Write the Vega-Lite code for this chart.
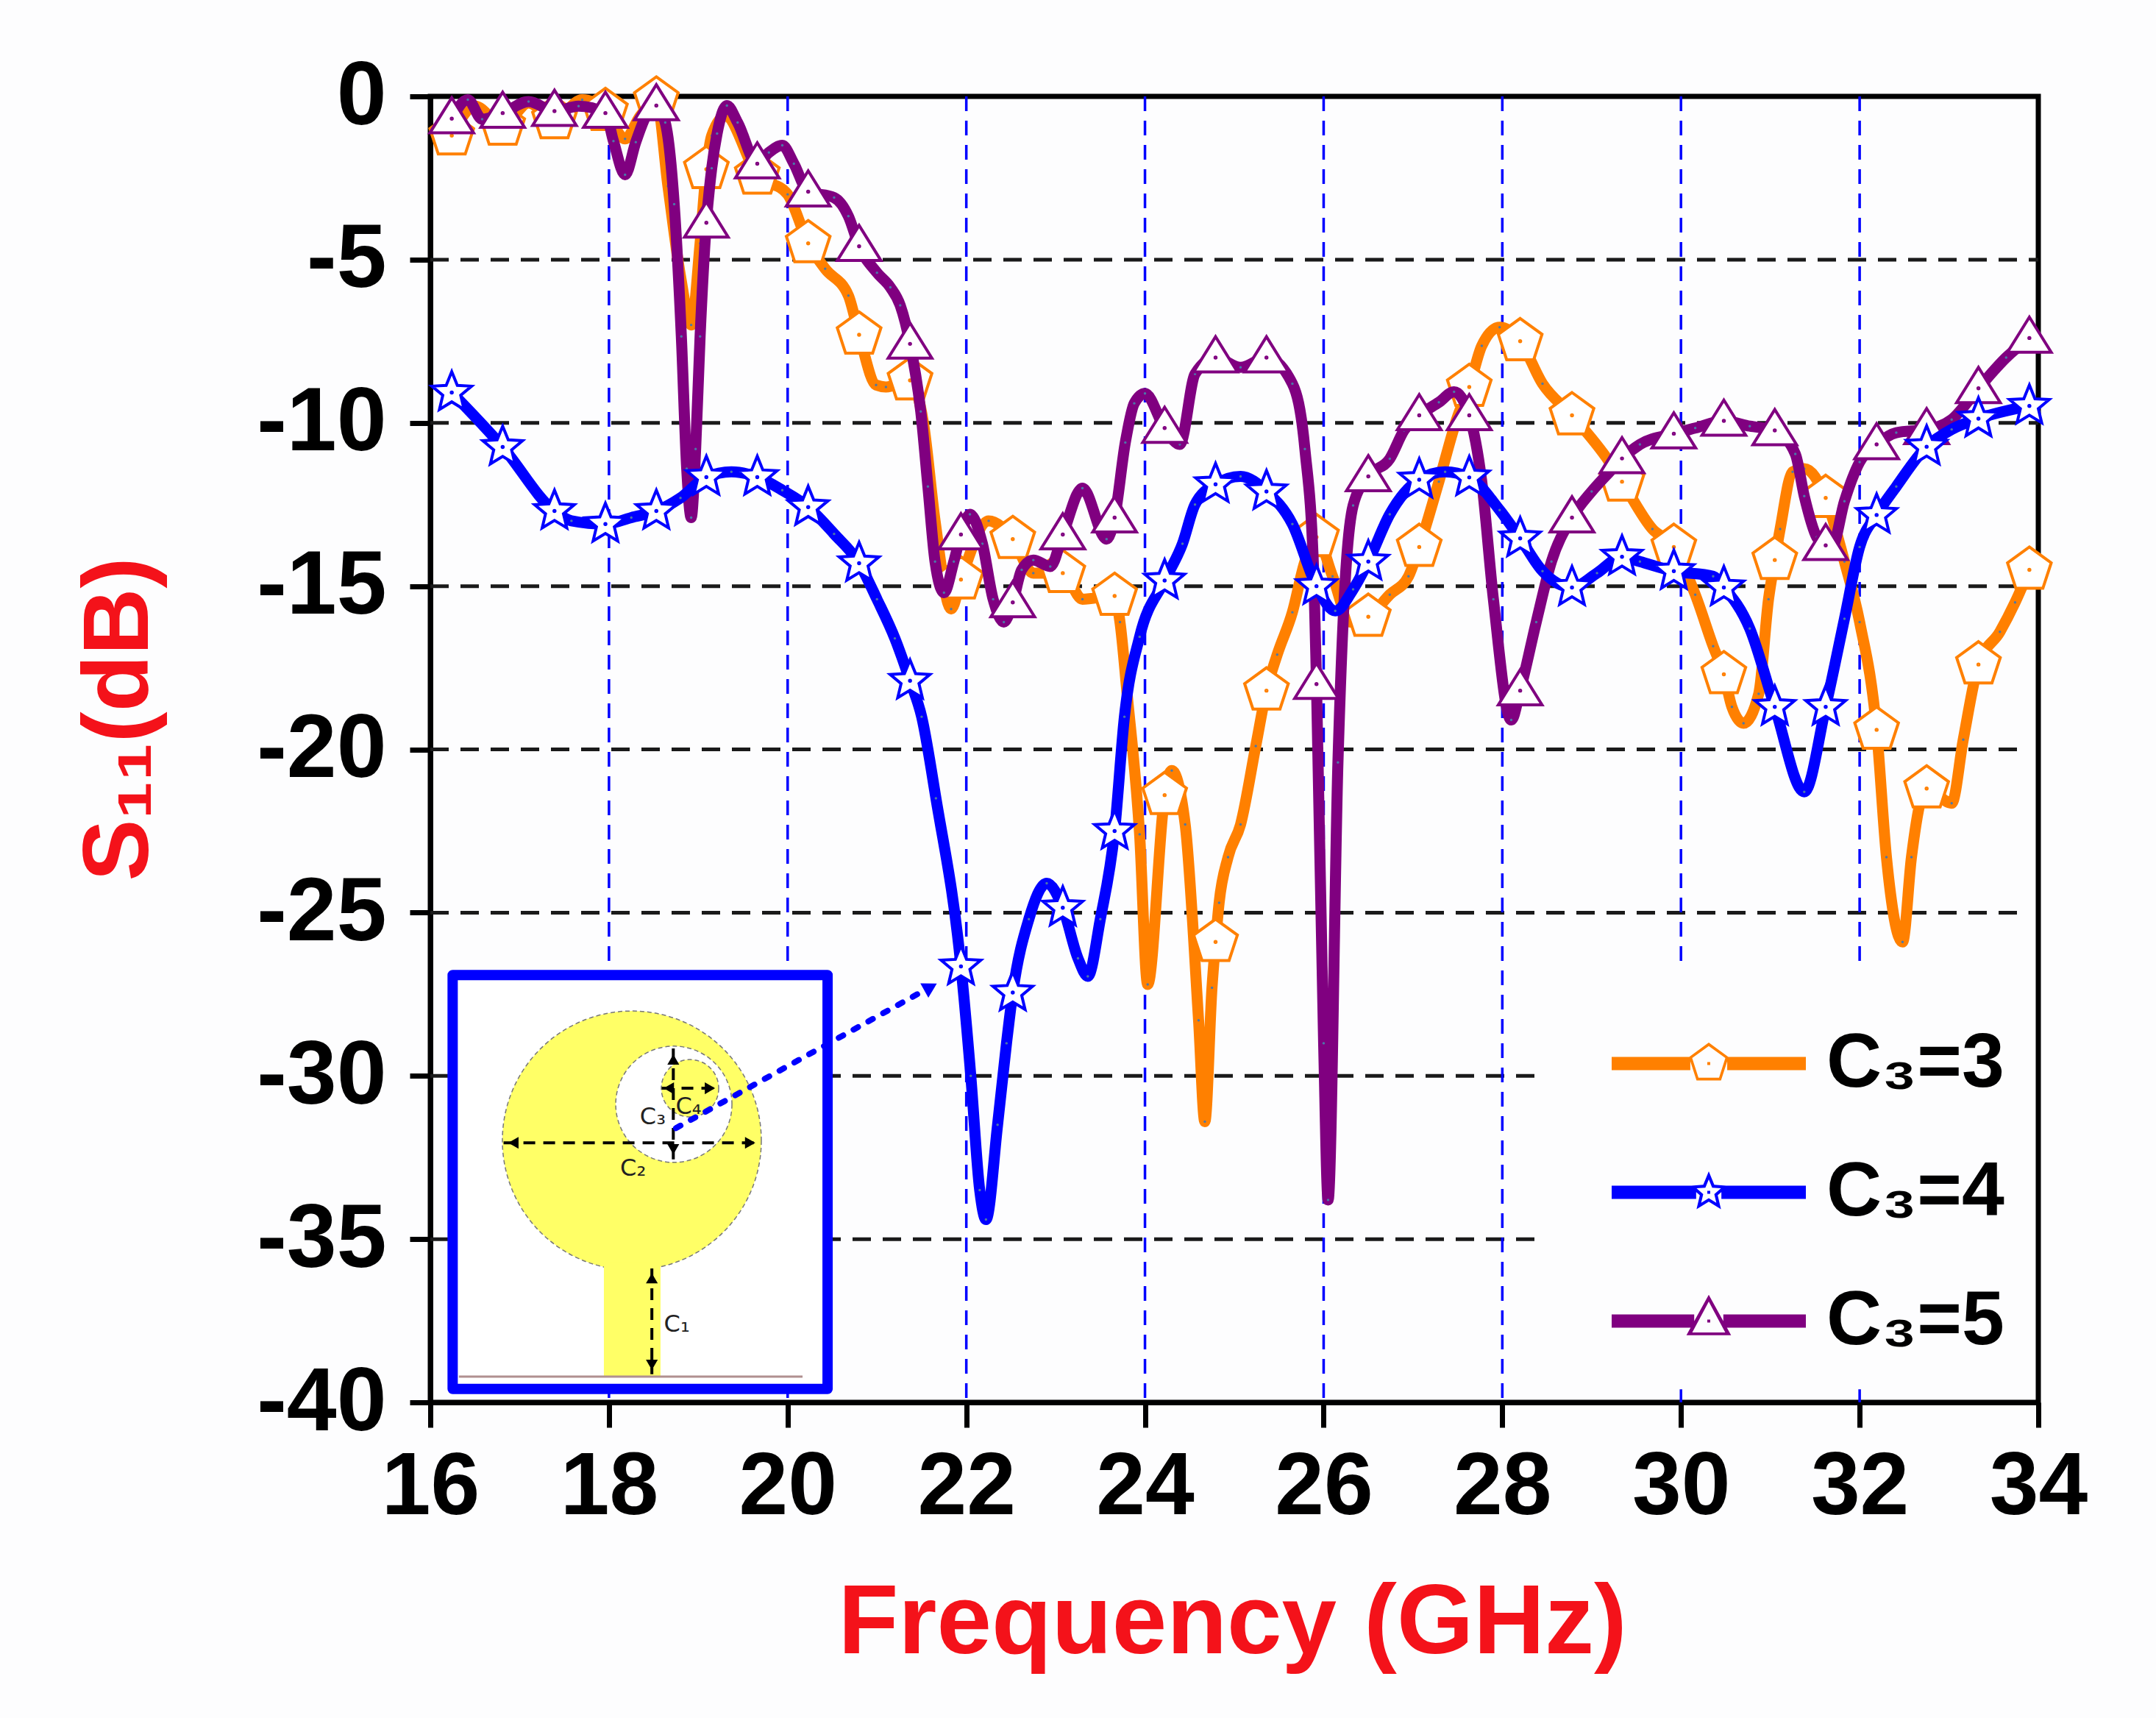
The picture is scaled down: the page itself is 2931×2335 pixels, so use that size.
{
"$schema":"https://vega.github.io/schema/vega-lite/v6.json",
"autosize":"none","width":2186,"height":1775,
"padding":{"left":585,"top":131,"right":160,"bottom":429},
"background":"#fdfdfe",
"config":{"view":{"stroke":"#000000","strokeWidth":7},"font":"Liberation Sans","axis":{"grid":false}},
"datasets":{
"gridH":[{"db":-5,"from":16,"to":34},{"db":-10,"from":16,"to":34},{"db":-15,"from":16,"to":34},{"db":-20,"from":16,"to":33.85},{"db":-25,"from":16,"to":33.85},{"db":-30,"from":16,"to":28.4},{"db":-35,"from":16,"to":28.4}],
"gridV":[{"f":18,"from":0,"to":-40},{"f":20,"from":0,"to":-40},{"f":22,"from":0,"to":-40},{"f":24,"from":0,"to":-40},{"f":26,"from":0,"to":-40},{"f":28,"from":0,"to":-40},{"f":30,"from":0,"to":-26.7},{"f":32,"from":0,"to":-26.7},{"f":30,"from":-39.6,"to":-40},{"f":32,"from":-39.6,"to":-40}],
"curves":[
{"series":"C₃=3","freq":16.24,"s11":-1.2,"marker":true},{"series":"C₃=3","freq":16.5,"s11":-0.3,"marker":false},{"series":"C₃=3","freq":16.81,"s11":-0.9,"marker":true},{"series":"C₃=3","freq":17.1,"s11":-0.2,"marker":false},{"series":"C₃=3","freq":17.39,"s11":-0.7,"marker":true},{"series":"C₃=3","freq":17.7,"s11":-0.1,"marker":false},{"series":"C₃=3","freq":17.96,"s11":-0.45,"marker":true},{"series":"C₃=3","freq":18.18,"s11":-1.3,"marker":false},{"series":"C₃=3","freq":18.35,"s11":-0.6,"marker":false},{"series":"C₃=3","freq":18.53,"s11":-0.1,"marker":true},{"series":"C₃=3","freq":18.66,"s11":-2.75,"marker":false},{"series":"C₃=3","freq":18.8,"s11":-5.5,"marker":false},{"series":"C₃=3","freq":18.92,"s11":-7,"marker":false},{"series":"C₃=3","freq":19.02,"s11":-4.5,"marker":false},{"series":"C₃=3","freq":19.09,"s11":-2.23,"marker":true},{"series":"C₃=3","freq":19.15,"s11":-1.2,"marker":false},{"series":"C₃=3","freq":19.3,"s11":-0.6,"marker":false},{"series":"C₃=3","freq":19.66,"s11":-2.4,"marker":true},{"series":"C₃=3","freq":20.0,"s11":-3,"marker":false},{"series":"C₃=3","freq":20.23,"s11":-4.5,"marker":true},{"series":"C₃=3","freq":20.42,"s11":-5.28,"marker":false},{"series":"C₃=3","freq":20.68,"s11":-6.1,"marker":false},{"series":"C₃=3","freq":20.8,"s11":-7.3,"marker":true},{"series":"C₃=3","freq":20.99,"s11":-8.84,"marker":false},{"series":"C₃=3","freq":21.1,"s11":-8.9,"marker":false},{"series":"C₃=3","freq":21.37,"s11":-8.7,"marker":true},{"series":"C₃=3","freq":21.52,"s11":-10,"marker":false},{"series":"C₃=3","freq":21.65,"s11":-13,"marker":false},{"series":"C₃=3","freq":21.83,"s11":-15.7,"marker":false},{"series":"C₃=3","freq":21.94,"s11":-14.8,"marker":true},{"series":"C₃=3","freq":22.25,"s11":-13,"marker":false},{"series":"C₃=3","freq":22.52,"s11":-13.56,"marker":true},{"series":"C₃=3","freq":22.75,"s11":-14.6,"marker":false},{"series":"C₃=3","freq":23.08,"s11":-14.6,"marker":true},{"series":"C₃=3","freq":23.3,"s11":-15.4,"marker":false},{"series":"C₃=3","freq":23.66,"s11":-15.3,"marker":true},{"series":"C₃=3","freq":23.72,"s11":-16.1,"marker":false},{"series":"C₃=3","freq":23.8,"s11":-18.3,"marker":false},{"series":"C₃=3","freq":23.94,"s11":-22.6,"marker":false},{"series":"C₃=3","freq":24.03,"s11":-27.2,"marker":false},{"series":"C₃=3","freq":24.2,"s11":-21.9,"marker":false},{"series":"C₃=3","freq":24.22,"s11":-21.4,"marker":true},{"series":"C₃=3","freq":24.3,"s11":-20.65,"marker":false},{"series":"C₃=3","freq":24.45,"s11":-22.3,"marker":false},{"series":"C₃=3","freq":24.6,"s11":-28.3,"marker":false},{"series":"C₃=3","freq":24.67,"s11":-31.4,"marker":false},{"series":"C₃=3","freq":24.75,"s11":-27.3,"marker":false},{"series":"C₃=3","freq":24.79,"s11":-25.9,"marker":true},{"series":"C₃=3","freq":24.83,"s11":-24.7,"marker":false},{"series":"C₃=3","freq":24.93,"s11":-23.3,"marker":false},{"series":"C₃=3","freq":25.07,"s11":-22.3,"marker":false},{"series":"C₃=3","freq":25.24,"s11":-19.9,"marker":false},{"series":"C₃=3","freq":25.36,"s11":-18.2,"marker":true},{"series":"C₃=3","freq":25.48,"s11":-17.1,"marker":false},{"series":"C₃=3","freq":25.65,"s11":-15.8,"marker":false},{"series":"C₃=3","freq":25.79,"s11":-14.25,"marker":false},{"series":"C₃=3","freq":25.92,"s11":-13.5,"marker":true},{"series":"C₃=3","freq":26.1,"s11":-14.7,"marker":false},{"series":"C₃=3","freq":26.3,"s11":-16.1,"marker":false},{"series":"C₃=3","freq":26.5,"s11":-15.94,"marker":true},{"series":"C₃=3","freq":26.74,"s11":-15.26,"marker":false},{"series":"C₃=3","freq":26.95,"s11":-14.7,"marker":false},{"series":"C₃=3","freq":27.07,"s11":-13.8,"marker":true},{"series":"C₃=3","freq":27.29,"s11":-11.8,"marker":false},{"series":"C₃=3","freq":27.5,"s11":-9.8,"marker":false},{"series":"C₃=3","freq":27.63,"s11":-8.9,"marker":true},{"series":"C₃=3","freq":27.77,"s11":-7.64,"marker":false},{"series":"C₃=3","freq":27.97,"s11":-7.07,"marker":false},{"series":"C₃=3","freq":28.2,"s11":-7.5,"marker":true},{"series":"C₃=3","freq":28.45,"s11":-8.8,"marker":false},{"series":"C₃=3","freq":28.78,"s11":-9.77,"marker":true},{"series":"C₃=3","freq":29.2,"s11":-11.2,"marker":false},{"series":"C₃=3","freq":29.34,"s11":-11.8,"marker":true},{"series":"C₃=3","freq":29.68,"s11":-13.25,"marker":false},{"series":"C₃=3","freq":29.92,"s11":-13.8,"marker":true},{"series":"C₃=3","freq":30.16,"s11":-15.26,"marker":false},{"series":"C₃=3","freq":30.36,"s11":-16.84,"marker":false},{"series":"C₃=3","freq":30.48,"s11":-17.7,"marker":true},{"series":"C₃=3","freq":30.57,"s11":-18.7,"marker":false},{"series":"C₃=3","freq":30.7,"s11":-19.2,"marker":false},{"series":"C₃=3","freq":30.87,"s11":-18.3,"marker":false},{"series":"C₃=3","freq":30.98,"s11":-15.4,"marker":false},{"series":"C₃=3","freq":31.05,"s11":-14.2,"marker":true},{"series":"C₃=3","freq":31.11,"s11":-13.25,"marker":false},{"series":"C₃=3","freq":31.25,"s11":-11.5,"marker":false},{"series":"C₃=3","freq":31.38,"s11":-11.4,"marker":false},{"series":"C₃=3","freq":31.62,"s11":-12.3,"marker":true},{"series":"C₃=3","freq":31.83,"s11":-14.25,"marker":false},{"series":"C₃=3","freq":32.0,"s11":-16.1,"marker":false},{"series":"C₃=3","freq":32.19,"s11":-19.4,"marker":true},{"series":"C₃=3","freq":32.3,"s11":-23.3,"marker":false},{"series":"C₃=3","freq":32.48,"s11":-25.9,"marker":false},{"series":"C₃=3","freq":32.58,"s11":-23.3,"marker":false},{"series":"C₃=3","freq":32.68,"s11":-21.6,"marker":false},{"series":"C₃=3","freq":32.75,"s11":-21.2,"marker":true},{"series":"C₃=3","freq":33.03,"s11":-21.65,"marker":false},{"series":"C₃=3","freq":33.16,"s11":-19.7,"marker":false},{"series":"C₃=3","freq":33.33,"s11":-17.4,"marker":true},{"series":"C₃=3","freq":33.57,"s11":-16.4,"marker":false},{"series":"C₃=3","freq":33.74,"s11":-15.5,"marker":false},{"series":"C₃=3","freq":33.9,"s11":-14.5,"marker":true},

{"series":"C₃=5","freq":16.24,"s11":-0.68,"marker":true},{"series":"C₃=5","freq":16.42,"s11":-0.1,"marker":false},{"series":"C₃=5","freq":16.58,"s11":-0.7,"marker":false},{"series":"C₃=5","freq":16.81,"s11":-0.51,"marker":true},{"series":"C₃=5","freq":17.1,"s11":-0.16,"marker":false},{"series":"C₃=5","freq":17.39,"s11":-0.45,"marker":true},{"series":"C₃=5","freq":17.66,"s11":-0.3,"marker":false},{"series":"C₃=5","freq":17.96,"s11":-0.51,"marker":true},{"series":"C₃=5","freq":18.05,"s11":-1.37,"marker":false},{"series":"C₃=5","freq":18.18,"s11":-2.4,"marker":false},{"series":"C₃=5","freq":18.3,"s11":-1.4,"marker":false},{"series":"C₃=5","freq":18.42,"s11":-0.57,"marker":false},{"series":"C₃=5","freq":18.53,"s11":-0.28,"marker":true},{"series":"C₃=5","freq":18.63,"s11":-0.8,"marker":false},{"series":"C₃=5","freq":18.73,"s11":-3.3,"marker":false},{"series":"C₃=5","freq":18.81,"s11":-7.35,"marker":false},{"series":"C₃=5","freq":18.87,"s11":-11.4,"marker":false},{"series":"C₃=5","freq":18.92,"s11":-12.9,"marker":false},{"series":"C₃=5","freq":18.97,"s11":-10.8,"marker":false},{"series":"C₃=5","freq":19.02,"s11":-7.35,"marker":false},{"series":"C₃=5","freq":19.09,"s11":-3.87,"marker":true},{"series":"C₃=5","freq":19.15,"s11":-2.2,"marker":false},{"series":"C₃=5","freq":19.21,"s11":-1.14,"marker":false},{"series":"C₃=5","freq":19.32,"s11":-0.28,"marker":false},{"series":"C₃=5","freq":19.44,"s11":-0.8,"marker":false},{"series":"C₃=5","freq":19.66,"s11":-2.06,"marker":true},{"series":"C₃=5","freq":19.79,"s11":-1.72,"marker":false},{"series":"C₃=5","freq":19.94,"s11":-1.5,"marker":false},{"series":"C₃=5","freq":20.07,"s11":-2.06,"marker":false},{"series":"C₃=5","freq":20.23,"s11":-2.92,"marker":true},{"series":"C₃=5","freq":20.52,"s11":-3.1,"marker":false},{"series":"C₃=5","freq":20.68,"s11":-3.67,"marker":false},{"series":"C₃=5","freq":20.8,"s11":-4.59,"marker":true},{"series":"C₃=5","freq":21.0,"s11":-5.4,"marker":false},{"series":"C₃=5","freq":21.15,"s11":-5.85,"marker":false},{"series":"C₃=5","freq":21.26,"s11":-6.4,"marker":false},{"series":"C₃=5","freq":21.37,"s11":-7.58,"marker":true},{"series":"C₃=5","freq":21.49,"s11":-9.65,"marker":false},{"series":"C₃=5","freq":21.57,"s11":-11.95,"marker":false},{"series":"C₃=5","freq":21.65,"s11":-14.25,"marker":false},{"series":"C₃=5","freq":21.75,"s11":-15.2,"marker":false},{"series":"C₃=5","freq":21.86,"s11":-14.25,"marker":false},{"series":"C₃=5","freq":21.94,"s11":-13.42,"marker":true},{"series":"C₃=5","freq":22.04,"s11":-12.8,"marker":false},{"series":"C₃=5","freq":22.18,"s11":-13.7,"marker":false},{"series":"C₃=5","freq":22.3,"s11":-15.4,"marker":false},{"series":"C₃=5","freq":22.42,"s11":-16.1,"marker":false},{"series":"C₃=5","freq":22.52,"s11":-15.5,"marker":true},{"series":"C₃=5","freq":22.62,"s11":-14.5,"marker":false},{"series":"C₃=5","freq":22.75,"s11":-14.2,"marker":false},{"series":"C₃=5","freq":22.94,"s11":-14.4,"marker":false},{"series":"C₃=5","freq":23.08,"s11":-13.42,"marker":true},{"series":"C₃=5","freq":23.3,"s11":-12,"marker":false},{"series":"C₃=5","freq":23.57,"s11":-13.56,"marker":false},{"series":"C₃=5","freq":23.66,"s11":-12.9,"marker":true},{"series":"C₃=5","freq":23.78,"s11":-10.6,"marker":false},{"series":"C₃=5","freq":23.88,"s11":-9.4,"marker":false},{"series":"C₃=5","freq":24.0,"s11":-9.1,"marker":false},{"series":"C₃=5","freq":24.22,"s11":-10.16,"marker":true},{"series":"C₃=5","freq":24.39,"s11":-10.66,"marker":false},{"series":"C₃=5","freq":24.56,"s11":-8.5,"marker":false},{"series":"C₃=5","freq":24.79,"s11":-8,"marker":true},{"series":"C₃=5","freq":25.07,"s11":-8.3,"marker":false},{"series":"C₃=5","freq":25.36,"s11":-8,"marker":true},{"series":"C₃=5","freq":25.65,"s11":-8.8,"marker":false},{"series":"C₃=5","freq":25.79,"s11":-10.8,"marker":false},{"series":"C₃=5","freq":25.89,"s11":-14.7,"marker":false},{"series":"C₃=5","freq":25.92,"s11":-18,"marker":true},{"series":"C₃=5","freq":26.0,"s11":-29,"marker":false},{"series":"C₃=5","freq":26.05,"s11":-33.8,"marker":false},{"series":"C₃=5","freq":26.16,"s11":-20.4,"marker":false},{"series":"C₃=5","freq":26.23,"s11":-15.4,"marker":false},{"series":"C₃=5","freq":26.33,"s11":-12.53,"marker":false},{"series":"C₃=5","freq":26.5,"s11":-11.64,"marker":true},{"series":"C₃=5","freq":26.74,"s11":-11.1,"marker":false},{"series":"C₃=5","freq":26.9,"s11":-10.23,"marker":false},{"series":"C₃=5","freq":27.07,"s11":-9.77,"marker":true},{"series":"C₃=5","freq":27.29,"s11":-9.37,"marker":false},{"series":"C₃=5","freq":27.46,"s11":-9.05,"marker":false},{"series":"C₃=5","freq":27.63,"s11":-9.77,"marker":true},{"series":"C₃=5","freq":27.77,"s11":-11.8,"marker":false},{"series":"C₃=5","freq":27.9,"s11":-15.4,"marker":false},{"series":"C₃=5","freq":28.1,"s11":-19.1,"marker":false},{"series":"C₃=5","freq":28.2,"s11":-18.2,"marker":true},{"series":"C₃=5","freq":28.38,"s11":-16.1,"marker":false},{"series":"C₃=5","freq":28.55,"s11":-14.25,"marker":false},{"series":"C₃=5","freq":28.78,"s11":-12.9,"marker":true},{"series":"C₃=5","freq":29.0,"s11":-12.1,"marker":false},{"series":"C₃=5","freq":29.2,"s11":-11.5,"marker":false},{"series":"C₃=5","freq":29.34,"s11":-11.09,"marker":true},{"series":"C₃=5","freq":29.54,"s11":-10.66,"marker":false},{"series":"C₃=5","freq":29.92,"s11":-10.33,"marker":true},{"series":"C₃=5","freq":30.16,"s11":-10.16,"marker":false},{"series":"C₃=5","freq":30.48,"s11":-9.94,"marker":true},{"series":"C₃=5","freq":30.77,"s11":-10.1,"marker":false},{"series":"C₃=5","freq":31.05,"s11":-10.23,"marker":true},{"series":"C₃=5","freq":31.28,"s11":-10.95,"marker":false},{"series":"C₃=5","freq":31.38,"s11":-12.24,"marker":false},{"series":"C₃=5","freq":31.52,"s11":-13.5,"marker":false},{"series":"C₃=5","freq":31.62,"s11":-13.75,"marker":true},{"series":"C₃=5","freq":31.69,"s11":-13.8,"marker":false},{"series":"C₃=5","freq":31.83,"s11":-12.4,"marker":false},{"series":"C₃=5","freq":32.0,"s11":-11.2,"marker":false},{"series":"C₃=5","freq":32.19,"s11":-10.66,"marker":true},{"series":"C₃=5","freq":32.41,"s11":-10.3,"marker":false},{"series":"C₃=5","freq":32.75,"s11":-10.2,"marker":true},{"series":"C₃=5","freq":33.03,"s11":-9.9,"marker":false},{"series":"C₃=5","freq":33.33,"s11":-8.94,"marker":true},{"series":"C₃=5","freq":33.64,"s11":-8,"marker":false},{"series":"C₃=5","freq":33.9,"s11":-7.4,"marker":true},

{"series":"C₃=4","freq":16.24,"s11":-9.07,"marker":true},{"series":"C₃=4","freq":16.81,"s11":-10.74,"marker":true},{"series":"C₃=4","freq":17.39,"s11":-12.7,"marker":true},{"series":"C₃=4","freq":17.58,"s11":-13,"marker":false},{"series":"C₃=4","freq":17.96,"s11":-13.1,"marker":true},{"series":"C₃=4","freq":18.25,"s11":-12.9,"marker":false},{"series":"C₃=4","freq":18.53,"s11":-12.7,"marker":true},{"series":"C₃=4","freq":18.8,"s11":-12.3,"marker":false},{"series":"C₃=4","freq":19.09,"s11":-11.66,"marker":true},{"series":"C₃=4","freq":19.37,"s11":-11.5,"marker":false},{"series":"C₃=4","freq":19.66,"s11":-11.66,"marker":true},{"series":"C₃=4","freq":19.94,"s11":-12.06,"marker":false},{"series":"C₃=4","freq":20.23,"s11":-12.58,"marker":true},{"series":"C₃=4","freq":20.52,"s11":-13.4,"marker":false},{"series":"C₃=4","freq":20.8,"s11":-14.3,"marker":true},{"series":"C₃=4","freq":21.0,"s11":-15.4,"marker":false},{"series":"C₃=4","freq":21.2,"s11":-16.6,"marker":false},{"series":"C₃=4","freq":21.37,"s11":-17.9,"marker":true},{"series":"C₃=4","freq":21.5,"s11":-19,"marker":false},{"series":"C₃=4","freq":21.66,"s11":-21.5,"marker":false},{"series":"C₃=4","freq":21.94,"s11":-26.65,"marker":true},{"series":"C₃=4","freq":22.05,"s11":-30,"marker":false},{"series":"C₃=4","freq":22.15,"s11":-33.5,"marker":false},{"series":"C₃=4","freq":22.22,"s11":-34.4,"marker":false},{"series":"C₃=4","freq":22.35,"s11":-31.5,"marker":false},{"series":"C₃=4","freq":22.45,"s11":-29,"marker":false},{"series":"C₃=4","freq":22.52,"s11":-27.45,"marker":true},{"series":"C₃=4","freq":22.7,"s11":-25.2,"marker":false},{"series":"C₃=4","freq":22.9,"s11":-24.1,"marker":false},{"series":"C₃=4","freq":23.08,"s11":-24.85,"marker":true},{"series":"C₃=4","freq":23.25,"s11":-26.4,"marker":false},{"series":"C₃=4","freq":23.36,"s11":-26.95,"marker":false},{"series":"C₃=4","freq":23.5,"s11":-25.2,"marker":false},{"series":"C₃=4","freq":23.66,"s11":-22.5,"marker":true},{"series":"C₃=4","freq":23.77,"s11":-19,"marker":false},{"series":"C₃=4","freq":23.94,"s11":-16.55,"marker":false},{"series":"C₃=4","freq":24.22,"s11":-14.83,"marker":true},{"series":"C₃=4","freq":24.42,"s11":-13.7,"marker":false},{"series":"C₃=4","freq":24.56,"s11":-12.5,"marker":false},{"series":"C₃=4","freq":24.79,"s11":-11.88,"marker":true},{"series":"C₃=4","freq":25.07,"s11":-11.64,"marker":false},{"series":"C₃=4","freq":25.36,"s11":-12.1,"marker":true},{"series":"C₃=4","freq":25.65,"s11":-13.1,"marker":false},{"series":"C₃=4","freq":25.92,"s11":-15,"marker":true},{"series":"C₃=4","freq":26.13,"s11":-15.76,"marker":false},{"series":"C₃=4","freq":26.33,"s11":-15.1,"marker":false},{"series":"C₃=4","freq":26.5,"s11":-14.25,"marker":true},{"series":"C₃=4","freq":26.74,"s11":-12.8,"marker":false},{"series":"C₃=4","freq":27.07,"s11":-11.74,"marker":true},{"series":"C₃=4","freq":27.36,"s11":-11.5,"marker":false},{"series":"C₃=4","freq":27.63,"s11":-11.67,"marker":true},{"series":"C₃=4","freq":27.97,"s11":-12.67,"marker":false},{"series":"C₃=4","freq":28.2,"s11":-13.54,"marker":true},{"series":"C₃=4","freq":28.45,"s11":-14.54,"marker":false},{"series":"C₃=4","freq":28.78,"s11":-15.04,"marker":true},{"series":"C₃=4","freq":29.06,"s11":-14.6,"marker":false},{"series":"C₃=4","freq":29.34,"s11":-14.1,"marker":true},{"series":"C₃=4","freq":29.54,"s11":-14.25,"marker":false},{"series":"C₃=4","freq":29.92,"s11":-14.54,"marker":true},{"series":"C₃=4","freq":30.36,"s11":-14.7,"marker":false},{"series":"C₃=4","freq":30.48,"s11":-15.04,"marker":true},{"series":"C₃=4","freq":30.77,"s11":-16.3,"marker":false},{"series":"C₃=4","freq":31.05,"s11":-18.7,"marker":true},{"series":"C₃=4","freq":31.38,"s11":-21.3,"marker":false},{"series":"C₃=4","freq":31.62,"s11":-18.7,"marker":true},{"series":"C₃=4","freq":31.83,"s11":-16,"marker":false},{"series":"C₃=4","freq":32.0,"s11":-13.8,"marker":false},{"series":"C₃=4","freq":32.19,"s11":-12.82,"marker":true},{"series":"C₃=4","freq":32.41,"s11":-11.95,"marker":false},{"series":"C₃=4","freq":32.75,"s11":-10.73,"marker":true},{"series":"C₃=4","freq":33.03,"s11":-10.2,"marker":false},{"series":"C₃=4","freq":33.33,"s11":-9.87,"marker":true},{"series":"C₃=4","freq":33.9,"s11":-9.48,"marker":true}
]
},
"layer":[
{"data":{"name":"gridH"},"mark":{"type":"rule","color":"#1a1a1a","strokeWidth":5,"strokeDash":[25,16]},
 "encoding":{"y":{"field":"db","type":"quantitative","scale":{"domain":[-40,0],"nice":false,"zero":false}},"x":{"field":"from","type":"quantitative","scale":{"domain":[16,34],"nice":false,"zero":false}},"x2":{"field":"to"}}},
{"data":{"name":"gridV"},"mark":{"type":"rule","color":"#0000ff","strokeWidth":3.5,"strokeDash":[20,13]},
 "encoding":{"x":{"field":"f","type":"quantitative"},"y":{"field":"from","type":"quantitative"},"y2":{"field":"to"}}},
{"data":{"values":[{"x0":16.25,"x1":20.447,"y0":-26.91,"y1":-39.59}]},"mark":{"type":"rect","fill":"#ffffff","stroke":"#0000ff","strokeWidth":14,"strokeJoin":"round"},
 "encoding":{"x":{"field":"x0","type":"quantitative"},"x2":{"field":"x1"},"y":{"field":"y0","type":"quantitative"},"y2":{"field":"y1"}}},
{"data":{"values":[{"f":18.256,"db":-31.98}]},"mark":{"type":"point","shape":"circle","filled":true,"fill":"#ffff66","stroke":"#777777","strokeWidth":1.5,"strokeDash":[6,4],"opacity":1,"size":123904},
 "encoding":{"x":{"field":"f","type":"quantitative"},"y":{"field":"db","type":"quantitative"}}},
{"data":{"values":[{"x0":17.943,"x1":18.577,"y0":-35.7,"y1":-39.21}]},"mark":{"type":"rect","fill":"#ffff66"},
 "encoding":{"x":{"field":"x0","type":"quantitative"},"x2":{"field":"x1"},"y":{"field":"y0","type":"quantitative"},"y2":{"field":"y1"}}},
{"data":{"values":[{"x0":16.32,"x1":20.167,"db":-39.21}]},"mark":{"type":"rule","color":"#b09090","strokeWidth":3},
 "encoding":{"x":{"field":"x0","type":"quantitative"},"x2":{"field":"x1"},"y":{"field":"db","type":"quantitative"}}},
{"data":{"values":[{"f":18.726,"db":-30.87}]},"mark":{"type":"point","shape":"circle","filled":true,"fill":"#ffffff","stroke":"#777777","strokeWidth":1.5,"strokeDash":[6,4],"opacity":1,"size":24964},
 "encoding":{"x":{"field":"f","type":"quantitative"},"y":{"field":"db","type":"quantitative"}}},
{"data":{"values":[{"f":18.907,"db":-30.38}]},"mark":{"type":"point","shape":"circle","filled":true,"fill":"#ffff66","stroke":"#777777","strokeWidth":1.5,"strokeDash":[6,4],"opacity":1,"size":6084},
 "encoding":{"x":{"field":"f","type":"quantitative"},"y":{"field":"db","type":"quantitative"}}},
{"data":{"values":[{"x0":16.82,"x1":19.69,"y0":-32.05,"y1":-32.05},{"x0":18.48,"x1":18.48,"y0":-35.9,"y1":-39.14},{"x0":18.72,"x1":18.72,"y0":-29.16,"y1":-32.56},{"x0":18.59,"x1":19.21,"y0":-30.38,"y1":-30.38}]},"mark":{"type":"rule","color":"#000000","strokeWidth":4,"strokeDash":[16,11]},
 "encoding":{"x":{"field":"x0","type":"quantitative"},"x2":{"field":"x1"},"y":{"field":"y0","type":"quantitative"},"y2":{"field":"y1"}}},
{"data":{"values":[{"f":16.93,"db":-32.05,"dir":"left"},{"f":19.58,"db":-32.05,"dir":"right"},{"f":18.48,"db":-36.2,"dir":"up"},{"f":18.48,"db":-38.85,"dir":"down"},{"f":18.72,"db":-29.5,"dir":"up"},{"f":18.72,"db":-32.25,"dir":"down"},{"f":18.67,"db":-30.38,"dir":"left"},{"f":19.13,"db":-30.38,"dir":"right"}]},"mark":{"type":"point","filled":true,"color":"#000000","opacity":1,"size":260},
 "encoding":{"x":{"field":"f","type":"quantitative"},"y":{"field":"db","type":"quantitative"},"shape":{"field":"dir","type":"nominal","legend":null,"scale":{"domain":["left","right","up","down"],"range":["triangle-left","triangle-right","triangle-up","triangle-down"]}}}},
{"data":{"values":[{"f":18.76,"db":-37.6,"t":"C₁"},{"f":18.27,"db":-32.83,"t":"C₂"},{"f":18.49,"db":-31.26,"t":"C₃"},{"f":18.89,"db":-30.94,"t":"C₄"}]},"mark":{"type":"text","font":"DejaVu Sans","fontSize":32,"color":"#222222","align":"center","baseline":"middle"},
 "encoding":{"x":{"field":"f","type":"quantitative"},"y":{"field":"db","type":"quantitative"},"text":{"field":"t"}}},
{"data":{"name":"curves"},
 "encoding":{
  "x":{"field":"freq","type":"quantitative","axis":{"title":"Frequency (GHz)","values":[16,18,20,22,24,26,28,30,32,34],"format":"d","labelFont":"Liberation Sans","labelFontWeight":"bold","labelFontSize":120,"labelColor":"#000000","labelPadding":22,"labelFlush":false,"labelOverlap":false,"domainWidth":7,"domainColor":"#000000","tickWidth":7,"tickColor":"#000000","tickSize":34,"grid":false,"titleFont":"Liberation Sans","titleFontWeight":"bold","titleFontSize":134,"titleColor":"#f4121a","titleX":1090,"titleY":340,"titleBaseline":"alphabetic","titleAlign":"center","titleLimit":2000}},
  "y":{"field":"s11","type":"quantitative","axis":{"title":"S₁₁(dB)","values":[0,-5,-10,-15,-20,-25,-30,-35,-40],"labelExpr":"''+datum.value","labelFont":"Liberation Sans","labelFontWeight":"bold","labelFontSize":122,"labelColor":"#000000","labelPadding":32,"labelLimit":500,"labelFlush":false,"labelOverlap":false,"domainWidth":7,"domainColor":"#000000","tickWidth":7,"tickColor":"#000000","tickSize":28,"grid":false,"titleFont":"Liberation Sans","titleFontWeight":"bold","titleFontSize":126,"titleColor":"#f4121a","titleX":-385,"titleY":846,"titleBaseline":"alphabetic","titleAlign":"center","titleAngle":-90,"titleLimit":2000}},
  "stroke":{"field":"series","type":"nominal","sort":null,"legend":null,"scale":{"domain":["C₃=3","C₃=4","C₃=5"],"range":["#ff8000","#0000ff","#800080"]}},
  "shape":{"field":"series","type":"nominal","legend":null,"scale":{"domain":["C₃=3","C₃=4","C₃=5"],"range":["M0 -1.15L1.1 -.35L.68 .93L-.68 .93L-1.1 -.35Z","M0 -1.05L.28 -.36L1 -.32L.45 .14L.62 .85L0 .47L-.62 .85L-.45 .14L-1 -.32L-.28 -.36Z","M0 -1.05L1.1 .72L-1.1 .72Z"]}}
 },
 "layer":[
  {"transform":[{"filter":"datum.series=='C₃=3'"}],"layer":[
   {"mark":{"type":"line","strokeWidth":15,"interpolate":"monotone","strokeCap":"round"},"encoding":{"shape":{"value":null}}},
   {"transform":[{"filter":"datum.marker"}],"mark":{"type":"point","filled":true,"fill":"#ffffff","strokeWidth":4,"opacity":1,"size":2916}},
   {"transform":[{"filter":"datum.marker"}],"mark":{"type":"point","filled":false,"shape":"circle","strokeWidth":3,"opacity":1,"size":6},"encoding":{"shape":{"value":"circle"}}}
  ]},
  {"transform":[{"filter":"datum.series=='C₃=5'"}],"layer":[
   {"mark":{"type":"line","strokeWidth":15,"interpolate":"monotone","strokeCap":"round"},"encoding":{"shape":{"value":null}}},
   {"transform":[{"filter":"datum.marker"}],"mark":{"type":"point","filled":true,"fill":"#ffffff","strokeWidth":4,"opacity":1,"size":2916}},
   {"transform":[{"filter":"datum.marker"}],"mark":{"type":"point","filled":false,"shape":"circle","strokeWidth":3,"opacity":1,"size":6},"encoding":{"shape":{"value":"circle"}}}
  ]},
  {"transform":[{"filter":"datum.series=='C₃=4'"}],"layer":[
   {"mark":{"type":"line","strokeWidth":15,"interpolate":"monotone","strokeCap":"round"},"encoding":{"shape":{"value":null}}},
   {"transform":[{"filter":"datum.marker"}],"mark":{"type":"point","filled":true,"fill":"#ffffff","strokeWidth":4,"opacity":1,"size":2916}},
   {"transform":[{"filter":"datum.marker"}],"mark":{"type":"point","filled":false,"shape":"circle","strokeWidth":3,"opacity":1,"size":6},"encoding":{"shape":{"value":"circle"}}}
  ]}
 ]},
{"data":{"values":[{"x0":18.75,"x1":21.55,"y0":-31.6,"y1":-27.35}]},"mark":{"type":"rule","color":"#0000ff","strokeWidth":8,"strokeDash":[7,16],"strokeCap":"round"},
 "encoding":{"x":{"field":"x0","type":"quantitative"},"x2":{"field":"x1"},"y":{"field":"y0","type":"quantitative"},"y2":{"field":"y1"}}},
{"data":{"values":[{"f":21.6,"db":-27.28}]},"mark":{"type":"point","shape":"triangle-up","filled":true,"color":"#0000ff","opacity":1,"size":500,"angle":61},
 "encoding":{"x":{"field":"f","type":"quantitative"},"y":{"field":"db","type":"quantitative"}}},
{"data":{"name":"curves"},"transform":[{"filter":"false"}],"mark":{"type":"point","filled":true,"opacity":1},
 "encoding":{"x":{"field":"freq","type":"quantitative"},"y":{"field":"s11","type":"quantitative"},
  "fill":{"field":"series","type":"nominal","sort":null,"scale":{"domain":["C₃=3","C₃=4","C₃=5"],"range":["#ff8000","#0000ff","#800080"]},
   "legend":{"title":null,"orient":"none","legendX":1606,"legendY":1227,"padding":0,"clipHeight":175,"rowPadding":0,"symbolSize":69696,"symbolStrokeWidth":0,"symbolOpacity":1,"labelFont":"Liberation Sans","labelFontWeight":"bold","labelFontSize":104,"labelColor":"#000000","labelOffset":28,"labelLimit":400}},
  "shape":{"field":"series","type":"nominal","sort":null,"scale":{"domain":["C₃=3","C₃=4","C₃=5"],"range":["M-1 -.068L-.19 -.068L-.19 .068L-1 .068ZM.19 -.068L1 -.068L1 .068L.19 .068ZM0 -.215L.204 -.066L.126 .174L-.126 .174L-.204 -.066ZM0 -.18L-.171 -.056L-.106 .146L.106 .146L.171 -.056ZM-.015 -.015L.015 -.015L.015 .015L-.015 .015Z","M-1 -.068L-.13 -.068L-.13 .068L-1 .068ZM.13 -.068L1 -.068L1 .068L.13 .068ZM0 -.215L.057 -.078L.204 -.066L.092 .03L.126 .174L0 .097L-.126 .174L-.092 .03L-.204 -.066L-.057 -.078ZM0 -.133L-.035 -.048L-.126 -.041L-.057 .019L-.078 .108L0 .06L.078 .108L.057 .019L.126 -.041L.035 -.048ZM-.015 -.015L.015 -.015L.015 .015L-.015 .015Z","M-1 -.068L-.15 -.068L-.15 .068L-1 .068ZM.15 -.068L1 -.068L1 .068L.15 .068ZM0 -.27L.23 .145L-.23 .145ZM0 -.2L-.17 .118L.17 .118ZM-.015 -.015L.015 -.015L.015 .015L-.015 .015Z"]},
   "legend":{"title":null,"orient":"none","legendX":1606,"legendY":1227,"padding":0,"clipHeight":175,"rowPadding":0,"symbolSize":69696,"symbolStrokeWidth":0,"symbolOpacity":1,"labelFont":"Liberation Sans","labelFontWeight":"bold","labelFontSize":104,"labelColor":"#000000","labelOffset":28,"labelLimit":400}}
 }}
],
"resolve":{"scale":{"shape":"independent","fill":"independent"}}
}
